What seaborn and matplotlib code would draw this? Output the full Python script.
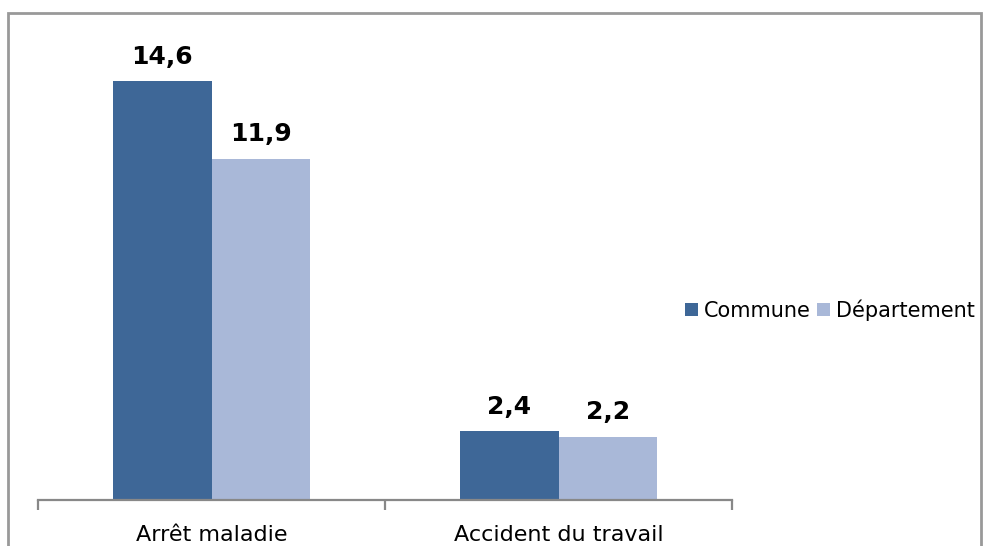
import matplotlib
matplotlib.use("Agg")
import matplotlib.pyplot as plt
from matplotlib.patches import Rectangle
import seaborn as sns
import pandas as pd

categories = ["Arrêt maladie", "Accident du travail"]
series = ["Commune", "Département"]
commune = [14.6, 2.4]
departement = [11.9, 2.2]

colors = ["#3E6797", "#A9B8D8"]

df = pd.DataFrame({
    "categorie": categories * 2,
    "serie": [series[0]] * len(categories) + [series[1]] * len(categories),
    "valeur": commune + departement,
})

sns.set_theme(style="white")
plt.rcParams["font.family"] = ["DejaVu Sans"]

fig = plt.figure(figsize=(9.91, 5.46), dpi=100)
ax = fig.add_axes([38 / 991, 1 - 500 / 546, 694 / 991, 459 / 546])

sns.barplot(data=df, x="categorie", y="valeur", hue="serie",
            palette=colors, width=0.57, gap=0, saturation=1,
            edgecolor="none", linewidth=0, ax=ax)

for cont in ax.containers:
    labels = [f"{b.get_height():.1f}".replace(".", ",") for b in cont]
    ax.bar_label(cont, labels=labels, padding=9, fontsize=18,
                 fontweight="bold", color="black")

ax.set_xlim(-0.5, 1.5)
ax.set_ylim(0, 16)
ax.set_xlabel("")
ax.set_ylabel("")
ax.set_yticks([])
for s in ["left", "right", "top"]:
    ax.spines[s].set_visible(False)
ax.spines["bottom"].set_color("#888888")
ax.spines["bottom"].set_linewidth(1.6)

ax.set_xticks([-0.5, 0.5, 1.5], minor=True)
ax.tick_params(axis="x", which="minor", length=7, width=1.6, color="#888888",
               bottom=True, direction="out")
ax.tick_params(axis="x", which="major", length=0, pad=18, labelsize=16,
               labelcolor="black")

leg = ax.legend(loc="center left", bbox_to_anchor=(677 / 991, 1 - 310 / 546),
                bbox_transform=fig.transFigure, ncol=2, frameon=False,
                fontsize=15, handlelength=0.6, handleheight=0.6,
                handletextpad=0.3, columnspacing=0.3, borderaxespad=0)
for t in leg.get_texts():
    t.set_color("black")

fig.patches.append(Rectangle((8 / 991, -0.05), (981 - 8) / 991, 1.05 - 13 / 546,
                             transform=fig.transFigure, fill=False,
                             edgecolor="#999999", linewidth=2))

fig.savefig("out.png", dpi=100)
